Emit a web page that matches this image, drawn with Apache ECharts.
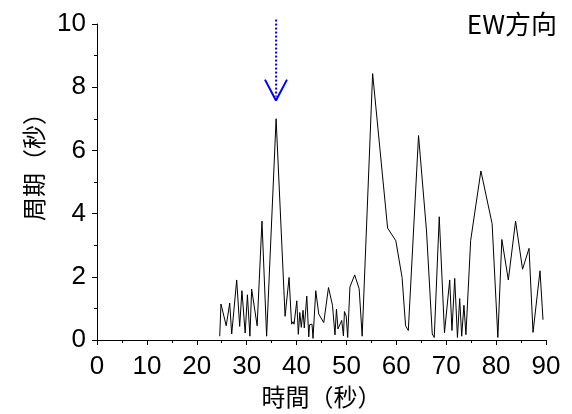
<!DOCTYPE html>
<html>
<head>
<meta charset="utf-8">
<script src="https://cdn.jsdelivr.net/npm/echarts@6/dist/echarts.min.js"></script>
<style>
  html, body { margin: 0; padding: 0; background: #fff; }
  #main { width: 572px; height: 414px; }
</style>
</head>
<body>
<div id="main"></div>
<script>
// 時間(秒) / 周期(秒) 折線資料
const times = [24.6, 24.85, 25.9, 26.6, 27.0, 28.0, 28.6, 29.05, 29.7, 30.15, 30.65, 31.0, 32.1, 33.07, 34.0, 35.9,
  37.7, 38.5, 39.0, 39.3, 39.5, 40.05, 40.35, 40.65, 40.95, 41.3, 41.55, 42.05, 42.45, 42.6, 42.9, 43.1, 43.3,
  43.85, 44.45, 45.45, 46.4, 47.2, 47.7, 48.0, 48.3, 49.05, 49.4, 49.6, 49.95, 50.25, 50.7, 51.65, 52.55, 53.15,
  55.25, 58.25, 59.9, 61.15, 61.85, 62.1, 62.4, 64.45, 66.05, 67.2, 67.6, 68.6, 69.65, 70.7, 71.15, 71.7, 72.25,
  72.7, 73.1, 73.55, 73.95, 74.9, 76.95, 79.2, 80.35, 81.15, 82.45, 83.9, 85.3, 86.6, 87.4, 88.8, 89.4];
const periods = [0.12, 1.14, 0.45, 1.17, 0.19, 1.9, 0.43, 1.56, 0.22, 1.43, 0.12, 1.61, 0.45, 3.76, 0.12, 7.0,
  0.75, 1.98, 0.5, 0.58, 0.5, 1.24, 0.18, 0.87, 0.4, 0.94, 0.38, 1.39, 0.1, 0.48, 0.53, 0.5, 0.05,
  1.56, 0.82, 0.55, 1.66, 1.1, 0.16, 0.98, 0.35, 0.62, 0.13, 0.9, 0.76, 0.08, 1.68, 2.06, 1.62, 0.12,
  8.43, 3.54, 3.14, 1.98, 0.45, 0.47, 0.3, 6.47, 3.45, 0.19, 0.08, 3.9, 0.23, 1.9, 0.3, 1.95, 0.08,
  1.31, 0.12, 1.1, 0.17, 3.15, 5.35, 3.68, 0.08, 3.18, 1.9, 3.76, 2.24, 2.9, 0.24, 2.19, 0.64];

// 藍色箭頭 (虛線 + V 形箭頭)
const arrowShaft = [[35.9, 10.14], [35.9, 7.7]];
const arrowHead = [[33.67, 8.24], [35.87, 7.58], [38.08, 8.24]];

const chart = echarts.init(document.getElementById('main'));

const tickFont = { color: '#000', fontSize: 26, fontFamily: 'Liberation Sans, Arial, sans-serif' };
const nameFont = { color: '#000', fontSize: 24, fontFamily: 'Noto Sans CJK TC, sans-serif' };

const option = {
  backgroundColor: '#ffffff',
  animation: false,
  title: {
    text: 'EW方向',
    right: 10,
    top: 6,
    textStyle: { color: '#000', fontSize: 26, fontWeight: 'normal', fontFamily: 'Noto Sans CJK TC, sans-serif' }
  },
  grid: { left: 97, right: 26, top: 24, bottom: 73 },
  xAxis: {
    type: 'value',
    min: 0,
    max: 90,
    interval: 10,
    name: '時間（秒）',
    nameLocation: 'middle',
    nameGap: 45,
    nameTextStyle: nameFont,
    axisLine: { show: true, lineStyle: { color: '#000', width: 1 } },
    axisTick: { show: true, length: 5, lineStyle: { color: '#000' } },
    minorTick: { show: true, splitNumber: 2, length: 3, lineStyle: { color: '#000' } },
    axisLabel: Object.assign({ margin: 14 }, tickFont),
    splitLine: { show: false }
  },
  yAxis: {
    type: 'value',
    min: 0,
    max: 10,
    interval: 2,
    name: '周期（秒）',
    nameLocation: 'middle',
    nameGap: 48,
    nameTextStyle: Object.assign({ padding: [0, 0, 0, 42] }, nameFont),
    axisLine: { show: true, lineStyle: { color: '#000', width: 1 } },
    axisTick: { show: true, length: 5, lineStyle: { color: '#000' } },
    minorTick: { show: true, splitNumber: 2, length: 3, lineStyle: { color: '#000' } },
    axisLabel: Object.assign({ margin: 11 }, tickFont),
    splitLine: { show: false }
  },
  series: [
    {
      type: 'line',
      data: times.map((t, i) => [t, periods[i]]),
      showSymbol: false,
      symbol: 'none',
      lineStyle: { color: '#000', width: 1 }
    },
    {
      type: 'line',
      data: arrowShaft,
      clip: false,
      symbol: 'none',
      lineStyle: { color: '#0000ff', width: 2, type: [2, 2] }
    },
    {
      type: 'line',
      data: arrowHead,
      clip: false,
      symbol: 'none',
      lineStyle: { color: '#0000ff', width: 2 }
    }
  ]
};

chart.setOption(option);
</script>
</body>
</html>
